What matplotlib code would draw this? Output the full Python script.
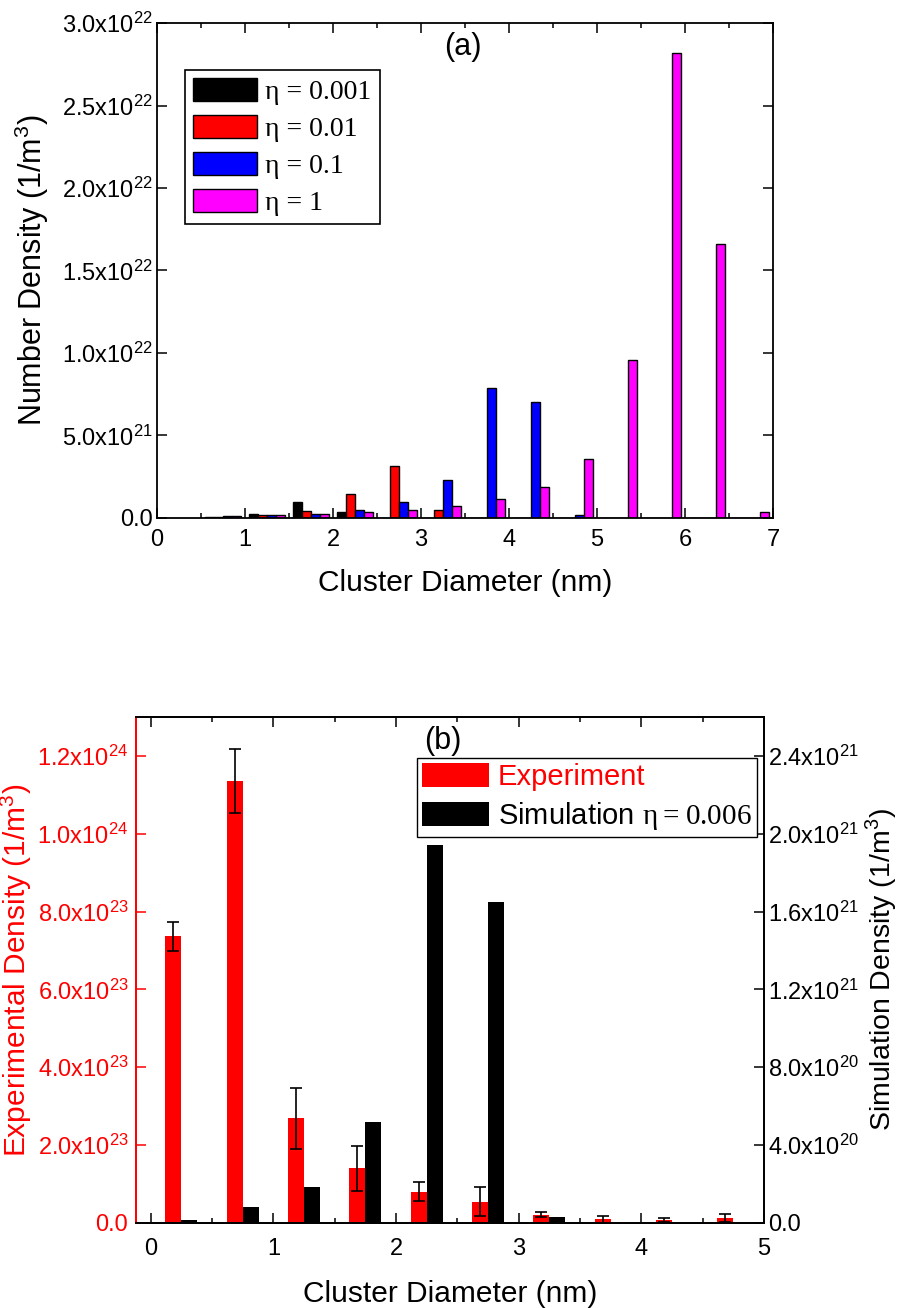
import matplotlib
matplotlib.use('Agg')
import matplotlib.pyplot as plt
from matplotlib.ticker import FuncFormatter, MultipleLocator
import numpy as np

plt.rcParams['font.family'] = ['Liberation Sans', 'DejaVu Sans']
plt.rcParams['mathtext.fontset'] = 'custom'
plt.rcParams['mathtext.rm'] = 'Liberation Sans'
plt.rcParams['mathtext.cal'] = 'Liberation Serif'

# ---- panel (a) data: bin centres (nm) and number densities (1/m^3)
diam_a = [0.75, 1.25, 1.75, 2.25, 2.75, 3.25, 3.75, 4.25, 4.75, 5.25, 5.75, 6.25, 6.75]
eta_labels = ['η = 0.001', 'η = 0.01', 'η = 0.1', 'η = 1']
eta_colors = ['black', 'red', 'blue', 'magenta']
dens_0001 = [0.03e21, 0.26e21, 0.99e21, 0.38e21, 0, 0, 0, 0, 0, 0, 0, 0, 0]
dens_001 = [0.04e21, 0.16e21, 0.42e21, 1.43e21, 3.15e21, 0.48e21, 0, 0, 0, 0, 0, 0, 0]
dens_01 = [0.10e21, 0.16e21, 0.26e21, 0.50e21, 0.95e21, 2.30e21, 7.85e21, 7.00e21,
           0.20e21, 0, 0, 0, 0]
dens_1 = [0.10e21, 0.20e21, 0.26e21, 0.38e21, 0.50e21, 0.73e21, 1.13e21, 1.87e21,
          3.57e21, 9.55e21, 28.2e21, 16.6e21, 0.38e21]

# ---- panel (b) data
diam_b = [0.25, 0.75, 1.25, 1.75, 2.25, 2.75, 3.25, 3.75, 4.25, 4.75]
exp_dens = [7.36e23, 11.35e23, 2.69e23, 1.40e23, 0.80e23, 0.55e23, 0.21e23, 0.10e23, 0.07e23, 0.13e23]
exp_err = [0.38e23, 0.82e23, 0.78e23, 0.58e23, 0.24e23, 0.37e23, 0.06e23, 0.09e23, 0.05e23, 0.10e23]
sim_dens = [0.14e20, 0.8e20, 1.83e20, 5.17e20, 19.4e20, 16.5e20, 0.29e20, 0, 0, 0]


def sci(v, pos):
    if v == 0:
        return '0.0'
    e = int(np.floor(np.log10(abs(v)) + 1e-9))
    return r'$\mathregular{%.1fx10^{%d}}$' % (v / 10 ** e, e)


TICK = 17
LAB = 21.5

fig = plt.figure(figsize=(9, 13.08), dpi=100)

# ================= panel (a)
ax = fig.add_axes([0.1744, 0.6040, 0.6844, 0.3784])
xa = np.array(diam_a)
offs = [-0.15, -0.05, 0.05, 0.15]
for d, off, c, lab in zip([dens_0001, dens_001, dens_01, dens_1], offs, eta_colors, eta_labels):
    ax.bar(xa + off, d, 0.1, color=c, edgecolor='black', linewidth=1.0, label=lab)

ax.set_xlim(0, 7)
ax.set_ylim(0, 3.0e22)
ax.xaxis.set_major_locator(MultipleLocator(1))
ax.xaxis.set_minor_locator(MultipleLocator(0.5))
ax.yaxis.set_major_locator(MultipleLocator(5e21))
ax.yaxis.set_major_formatter(FuncFormatter(sci))
ax.tick_params(which='both', direction='in', top=True, right=True, width=1.1, labelsize=TICK)
ax.tick_params(which='major', length=7)
ax.tick_params(which='minor', length=3.5)
ax.tick_params(axis='x', pad=8)
ax.tick_params(axis='y', pad=3)
for s in ax.spines.values():
    s.set_linewidth(1.3)
ax.set_xlabel('Cluster Diameter (nm)', fontsize=LAB, labelpad=13)
ax.set_ylabel('Number Density (1/m$^{3}$)', fontsize=22)
ax.yaxis.set_label_coords(-0.172, 0.5)
ax.text(0.497, 0.952, '(a)', transform=ax.transAxes, ha='center', va='center', fontsize=22)
leg = ax.legend(loc='upper left', bbox_to_anchor=(0.045, 0.905), borderaxespad=0,
                prop={'family': 'Liberation Serif', 'size': 20}, frameon=True, fancybox=False,
                edgecolor='black', framealpha=1, handlelength=2.3, handleheight=0.9,
                labelspacing=0.35, borderpad=0.3, handletextpad=0.3)
leg.get_frame().set_linewidth(1.2)

# ================= panel (b)
axb = fig.add_axes([0.1511, 0.0650, 0.6978, 0.3869])
axb2 = axb.twinx()
xb = np.array(diam_b)
axb.bar(xb - 0.065, exp_dens, 0.13, color='red', label='Experiment',
        yerr=exp_err, capsize=4.2,
        error_kw=dict(ecolor='black', elinewidth=1.2, capthick=1.2))
axb2.bar(xb + 0.065, sim_dens, 0.13, color='black', label=r'Simulation $\mathcal{\eta = 0.006}$')

axb.set_xlim(-0.12, 5)
axb.set_ylim(0, 1.3e24)
axb2.set_ylim(0, 2.6e21)
axb.xaxis.set_major_locator(MultipleLocator(1))
axb.xaxis.set_minor_locator(MultipleLocator(0.5))
axb.yaxis.set_major_locator(MultipleLocator(2e23))
axb2.yaxis.set_major_locator(MultipleLocator(4e20))
axb.yaxis.set_major_formatter(FuncFormatter(sci))
axb2.yaxis.set_major_formatter(FuncFormatter(sci))
axb.tick_params(which='both', direction='in', top=True, width=1.1, labelsize=TICK)
axb.tick_params(which='major', length=7)
axb.tick_params(which='minor', length=3.5)
axb.tick_params(axis='x', pad=11)
axb.tick_params(axis='y', colors='red', pad=5.5)
axb2.tick_params(axis='y', direction='in', length=7, width=1.1, labelsize=TICK, pad=3)
for a in (axb, axb2):
    for s in a.spines.values():
        s.set_linewidth(1.3)
    a.spines['left'].set_color('red')
axb.set_xlabel('Cluster Diameter (nm)', fontsize=LAB, labelpad=14)
axb.set_ylabel('Experimental Density (1/m$^{3}$)', fontsize=LAB, color='red')
axb.yaxis.set_label_coords(-0.162, 0.5)
axb2.set_ylabel('Simulation Density (1/m$^{3}$)', fontsize=20.5, rotation=90)
axb2.yaxis.set_label_coords(1.158, 0.5)
axb2.text(0.489, 0.953, '(b)', transform=axb2.transAxes, ha='center', va='center', fontsize=22)

h1, l1 = axb.get_legend_handles_labels()
h2, l2 = axb2.get_legend_handles_labels()
leg2 = axb2.legend(h1 + h2, l1 + l2, loc='upper right', bbox_to_anchor=(0.989, 0.919),
                   borderaxespad=0, fontsize=21, frameon=True, fancybox=False,
                   edgecolor='black', framealpha=1, handlelength=2.3, handleheight=0.9,
                   labelspacing=0.3, borderpad=0.18, handletextpad=0.3)
leg2.get_frame().set_linewidth(1.0)
leg2.get_texts()[0].set_color('red')

fig.savefig('out.png', dpi=100)
